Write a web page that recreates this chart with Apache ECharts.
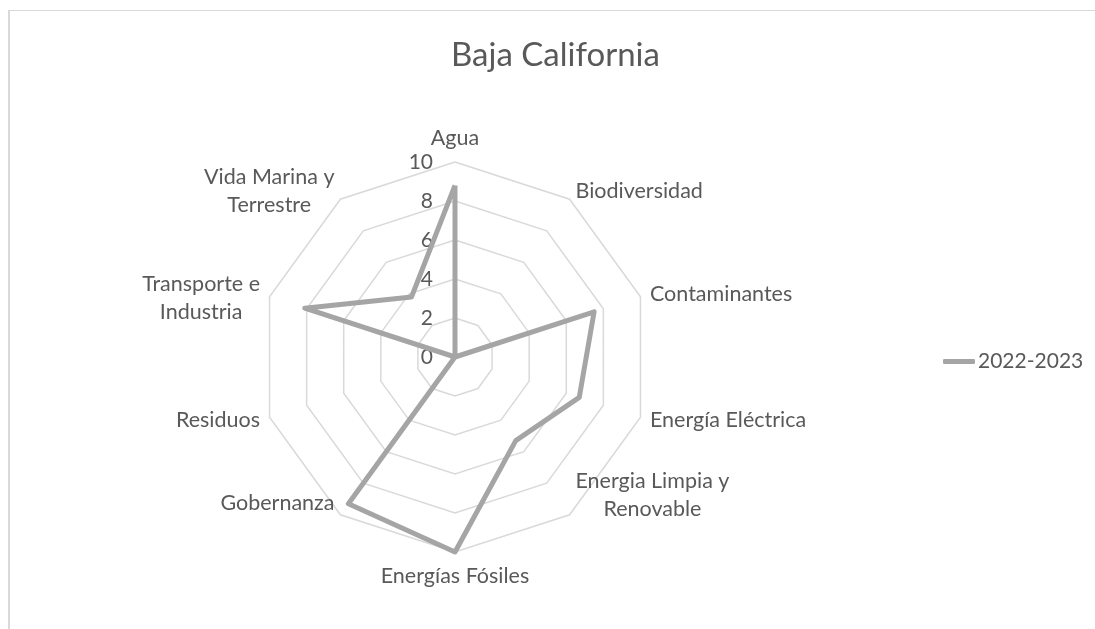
<!DOCTYPE html>
<html>
<head>
<meta charset="utf-8">
<script src="https://cdn.jsdelivr.net/npm/echarts@6/dist/echarts.min.js"></script>
<style>
  html, body { margin: 0; padding: 0; background: #fff; }
  #main { width: 1095px; height: 629px; }
  #frame { position: absolute; left: 8px; top: 10px; right: -5px; bottom: -5px;
           border-top: 1px solid #d9d9d9; border-left: 2px solid #d9d9d9; pointer-events: none; }
</style>
</head>
<body>
<div id="main"></div>
<div id="frame"></div>
<script>
// categorias en el orden de Excel (sentido horario desde arriba)
const categorias = ['Agua', 'Biodiversidad', 'Contaminantes', 'Energía Eléctrica',
  'Energia Limpia y\nRenovable', 'Energías Fósiles', 'Gobernanza', 'Residuos',
  'Transporte e\nIndustria', 'Vida Marina y\nTerrestre'];
const valores = [8.8, 0, 7.5, 6.7, 5.3, 10, 9.3, 0, 8.1, 3.8];
const serieNombre = '2022-2023';
const maximo = 10;

// echarts dibuja el radar en sentido antihorario, se invierte el orden
const orden = [0].concat(categorias.map((c, i) => i).slice(1).reverse());

const txt = '#595959';
const fuente = 'Lato';

let myChart = echarts.init(document.getElementById('main'));
let option = {
  animation: false,
  textStyle: { fontFamily: fuente },
  title: {
    text: 'Baja California',
    left: 446,
    top: 34,
    textStyle: { fontSize: 33, fontWeight: 'normal', color: txt, fontFamily: fuente }
  },
  legend: {
    data: [serieNombre],
    left: 938,
    top: 346,
    icon: 'roundRect',
    itemWidth: 32,
    itemHeight: 5,
    itemGap: 0,
    textStyle: { fontSize: 21, color: txt, fontFamily: fuente, padding: [0, 0, 0, -2] }
  },
  radar: {
    center: [455, 357],
    radius: 195,
    splitNumber: 5,
    shape: 'polygon',
    nameGap: 10,
    axisName: {
      color: txt,
      fontSize: 21.5,
      fontFamily: fuente,
      formatter: v => (v === 'Gobernanza' ? '{g|' : '{c|') + v + '}',
      rich: {
        c: { align: 'center', fontSize: 21.5, color: txt, fontFamily: fuente, lineHeight: 28 },
        g: { align: 'center', fontSize: 21.5, color: txt, fontFamily: fuente, lineHeight: 28, padding: [0, 0, 12, 0] }
      }
    },
    axisLine: { show: false },
    splitArea: { show: false },
    splitLine: { lineStyle: { color: '#d9d9d9', width: 1.5 } },
    indicator: orden.map((k, j) => {
      let ind = { name: categorias[k], min: 0, max: maximo };
      if (j === 0) {
        ind.axisLabel = { show: true, color: txt, fontSize: 21, fontFamily: fuente, margin: 22 };
      }
      // Excel coloca estas etiquetas por encima del vértice
      if (k === 4 || k === 6) {
        ind.nameTextStyle = { verticalAlign: 'bottom' };
      }
      if (k === 8) {
        ind.nameTextStyle = { padding: [8, 0, 0, 0] };
      }
      return ind;
    })
  },
  series: [{
    name: serieNombre,
    type: 'radar',
    symbol: 'none',
    lineStyle: { color: '#a5a5a5', width: 5, join: 'round' },
    itemStyle: { color: '#a5a5a5' },
    data: [{ name: serieNombre, value: orden.map(k => valores[k]) }]
  }]
};
myChart.setOption(option);
</script>
</body>
</html>
